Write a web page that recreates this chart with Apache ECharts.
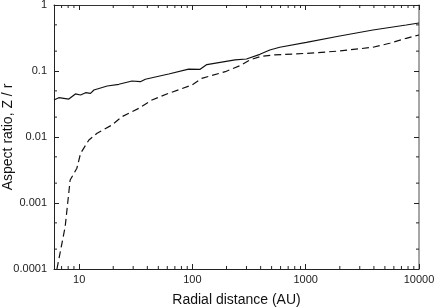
<!DOCTYPE html>
<html>
<head>
<meta charset="utf-8">
<script src="https://cdn.jsdelivr.net/npm/echarts@6/dist/echarts.min.js"></script>
<style>
html,body{margin:0;padding:0;background:#fff;}
#chart{width:436px;height:307px;}
</style>
</head>
<body>
<div id="chart"></div>
<script>
// Solid curve
const solidR = [6, 6.62, 8.11, 9.27, 10.3, 11.4, 12.6, 13.5, 17.7, 22.4, 29.3, 34.7, 38.4, 61.7, 92.6, 117, 134, 238, 300, 394, 482, 590, 1014, 1995, 3920, 7710, 10000];
const solidZ = [0.0364, 0.0394, 0.0376, 0.0449, 0.0433, 0.0469, 0.0459, 0.0515, 0.0593, 0.0629, 0.0705, 0.0689, 0.0749, 0.0901, 0.107, 0.106, 0.125, 0.147, 0.152, 0.179, 0.208, 0.229, 0.272, 0.339, 0.418, 0.498, 0.534];
// Dashed curve
const dashedR = [6.37, 7.53, 8.33, 9.55, 10.3, 12.2, 14.4, 19.5, 23.9, 33.6, 44.0, 61.7, 99, 121, 195, 231, 262, 321, 394, 515, 1014, 1995, 3920, 5500, 7710, 10000];
const dashedZ = [0.0001, 0.000437, 0.00223, 0.00336, 0.00566, 0.00901, 0.0114, 0.0152, 0.0203, 0.0272, 0.0364, 0.0459, 0.0614, 0.0775, 0.0976, 0.110, 0.120, 0.147, 0.165, 0.175, 0.185, 0.201, 0.229, 0.263, 0.313, 0.351];

const xTickValues = [10, 100, 1000, 10000];
const xTickLabels = ['10', '100', '1000', '10000'];
const yTickValues = [0.0001, 0.001, 0.01, 0.1, 1];
const yTickLabels = ['0.0001', '0.001', '0.01', '0.1', '1'];
const xMinorMult = [2, 3, 4, 5, 6, 7, 8, 9];
const yMinorMult = [2, 5];
const xDecades = [1, 10, 100, 1000];
const yDecades = [0.0001, 0.001, 0.01, 0.1];

const X_MIN = 6, X_MAX = 10000, Y_MIN = 0.0001, Y_MAX = 1;

function labelFor(values, labels) {
  return function (v) {
    for (let i = 0; i < values.length; i++) {
      if (Math.abs(Math.log10(v) - Math.log10(values[i])) < 1e-6) return labels[i];
    }
    return '';
  };
}

const xMinor = [];
xDecades.forEach(d => xMinorMult.forEach(m => { const v = m * d; if (v > X_MIN && v < X_MAX) xMinor.push(v); }));
const yMinor = [];
yDecades.forEach(d => yMinorMult.forEach(m => { const v = m * d; if (v > Y_MIN && v < Y_MAX) yMinor.push(v); }));

const axisCommon = {
  type: 'log',
  logBase: 10,
  splitLine: { show: false },
  axisTick: { inside: true, length: 5, lineStyle: { color: '#222', width: 1 } },
};

const chart = echarts.init(document.getElementById('chart'), null, { renderer: 'canvas' });
chart.setOption({
  animation: false,
  backgroundColor: '#fff',
  grid: { left: 54, right: 17, top: 5, bottom: 38, containLabel: false, outerBoundsMode: 'none' },
  xAxis: [
    Object.assign({}, axisCommon, {
      position: 'bottom', min: X_MIN, max: X_MAX,
      axisLine: { lineStyle: { color: '#222', width: 1 } },
      axisLabel: { formatter: labelFor(xTickValues, xTickLabels), color: '#222', fontSize: 11, fontFamily: 'Liberation Sans, Arial', margin: 5, showMinLabel: false },
      name: 'Radial distance (AU)', nameLocation: 'middle', nameGap: 24, nameMoveOverlap: false,
      nameTextStyle: { fontSize: 14, color: '#111', fontFamily: 'Liberation Sans, Arial' }
    }),
    Object.assign({}, axisCommon, {
      position: 'top', min: X_MIN, max: X_MAX,
      axisLine: { lineStyle: { color: '#333', width: 1 } },
      axisLabel: { show: false }
    })
  ],
  yAxis: [
    Object.assign({}, axisCommon, {
      position: 'left', min: Y_MIN, max: Y_MAX,
      axisLine: { lineStyle: { color: '#222', width: 1 } },
      axisLabel: { formatter: labelFor(yTickValues, yTickLabels), color: '#222', fontSize: 11, fontFamily: 'Liberation Sans, Arial', margin: 7 },
      name: 'Aspect ratio, Z / r', nameLocation: 'middle', nameGap: 39, nameMoveOverlap: false,
      nameTextStyle: { fontSize: 14, color: '#111', fontFamily: 'Liberation Sans, Arial' }
    }),
    Object.assign({}, axisCommon, {
      position: 'right', min: Y_MIN, max: Y_MAX,
      axisLine: { lineStyle: { color: '#888', width: 1.5 } },
      axisLabel: { show: false }
    })
  ],
  series: [
    {
      type: 'line', xAxisIndex: 0, yAxisIndex: 0, symbol: 'none',
      data: solidR.map((r, i) => [r, solidZ[i]]),
      lineStyle: { color: '#111', width: 1.2 }
    },
    {
      type: 'line', xAxisIndex: 0, yAxisIndex: 0, symbol: 'none',
      data: dashedR.map((r, i) => [r, dashedZ[i]]),
      lineStyle: { color: '#111', width: 1.2, type: [7, 4] }
    },
    {
      type: 'custom', xAxisIndex: 0, yAxisIndex: 0, silent: true, clip: false,
      data: xMinor.map(v => [v, Y_MIN]),
      renderItem: function (params, api) {
        const b = api.coord([api.value(0), Y_MIN]);
        const t = api.coord([api.value(0), Y_MAX]);
        const st = { stroke: '#222', lineWidth: 1 };
        return { type: 'group', children: [
          { type: 'line', shape: { x1: b[0], y1: b[1], x2: b[0], y2: b[1] - 3 }, style: st },
          { type: 'line', shape: { x1: t[0], y1: t[1], x2: t[0], y2: t[1] + 3 }, style: st }
        ] };
      }
    },
    {
      type: 'custom', xAxisIndex: 0, yAxisIndex: 0, silent: true, clip: false,
      data: yMinor.map(v => [X_MIN, v]),
      renderItem: function (params, api) {
        const l = api.coord([X_MIN, api.value(1)]);
        const r = api.coord([X_MAX, api.value(1)]);
        const st = { stroke: '#222', lineWidth: 1 };
        return { type: 'group', children: [
          { type: 'line', shape: { x1: l[0], y1: l[1], x2: l[0] + 3, y2: l[1] }, style: st },
          { type: 'line', shape: { x1: r[0], y1: r[1], x2: r[0] - 3, y2: r[1] }, style: st }
        ] };
      }
    }
  ]
});
</script>
</body>
</html>
